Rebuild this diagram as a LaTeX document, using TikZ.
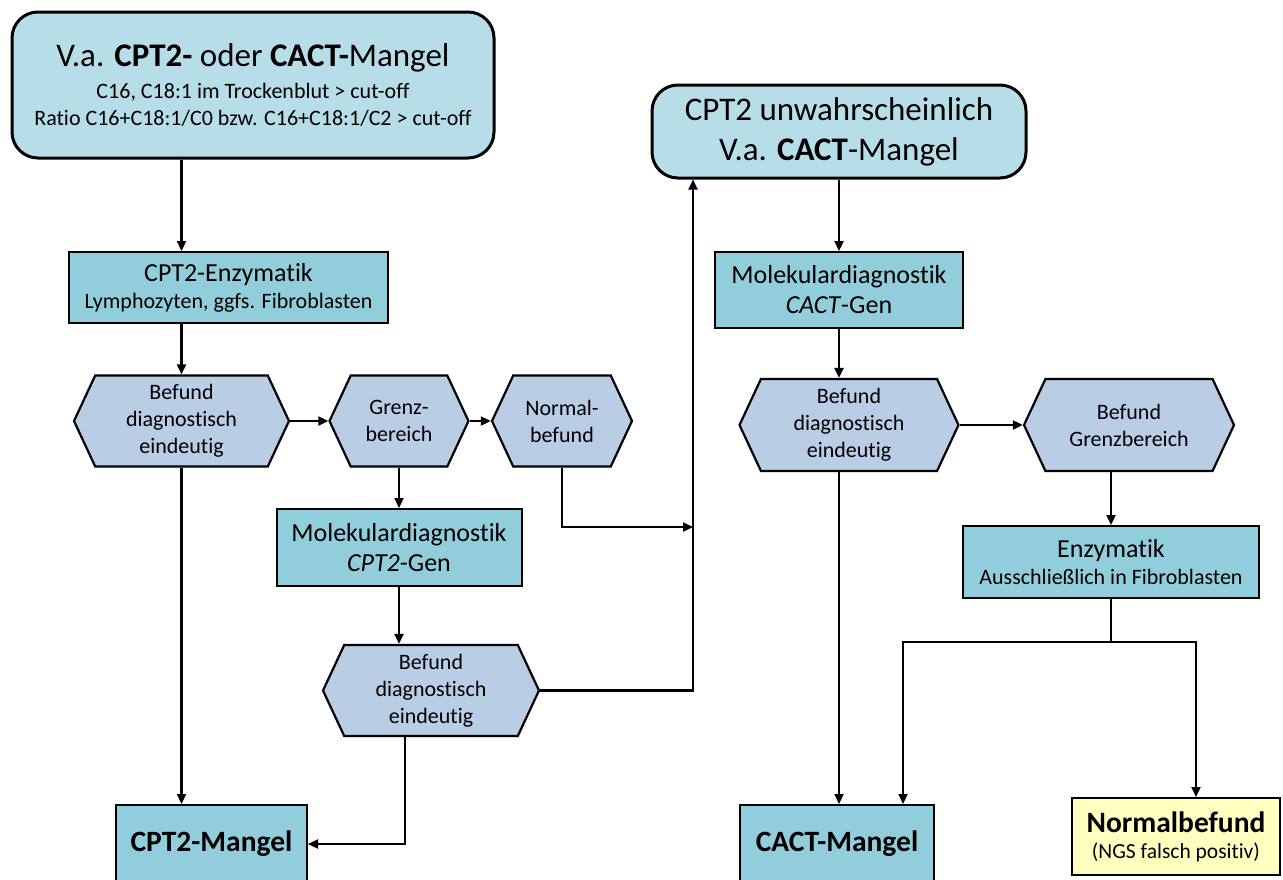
\documentclass[tikz,border=0pt]{standalone}
\usepackage{fontspec}
\setmainfont{Carlito}[Ligatures={NoCommon}]
\usetikzlibrary{shapes.symbols,arrows.meta,calc}
\definecolor{lightaqua}{HTML}{B7DEE8}
\definecolor{aqua}{HTML}{92CDDC}
\definecolor{lightblue}{HTML}{B9CDE5}
\definecolor{paleyellow}{HTML}{FFFFC0}
\newcommand{\fbig}{\fontsize{33}{40}\selectfont}
\newcommand{\fmid}{\fontsize{26}{30}\selectfont}
\newcommand{\fsmall}{\fontsize{22}{27}\selectfont}
\newcommand{\fend}{\fontsize{29.5}{30}\selectfont\bfseries}
\newcommand{\ftiny}{\fontsize{21.5}{25}\selectfont}

\begin{document}
\begin{tikzpicture}[x=1pt,y=-1pt,>={Triangle[length=10pt,width=9pt]},
  roundbox/.style={draw,line width=3pt,rounded corners=26pt,fill=lightaqua,align=center,inner sep=0pt},
  stepbox/.style={draw,line width=2pt,fill=aqua,align=center,inner sep=0pt},
  hexa/.style={draw,line width=2.2pt,fill=lightblue,signal,signal to=east and west,
    signal pointer angle=130,align=center,inner sep=0pt,font=\fsmall},
  conn/.style={line width=2.2pt},
  arr/.style={conn,->}]

\useasboundingbox (0,0) rectangle (1283,879);

%------------------------
% Start boxes
%------------------------
\node[roundbox,minimum width=482pt,minimum height=146pt,font=\fsmall] (top) at (253,85)
  {{\fbig V.a. \textbf{CPT2-} oder \textbf{CACT-}Mangel}\\[5pt]
   C16, C18:1 im Trockenblut > cut-off\\
   Ratio C16+C18:1/C0 bzw. C16+C18:1/C2 > cut-off};
\node[roundbox,minimum width=374pt,minimum height=93pt,font=\fbig] (unw) at (839,131.5)
  {CPT2 unwahrscheinlich\\V.a. \textbf{CACT}-Mangel};

%------------------------
% Left branch (CPT2)
%------------------------
\node[stepbox,minimum width=319pt,minimum height=71pt,font=\fsmall] (enz) at (228.5,287.5)
  {{\fmid CPT2-Enzymatik}\\Lymphozyten, ggfs. Fibroblasten};
\node[hexa,minimum width=215pt,minimum height=91pt] (h1) at (181.5,421)
  {Befund\\diagnostisch\\eindeutig};
\node[hexa,minimum width=139pt,minimum height=91pt] (h2) at (399,421)
  {Grenz-\\bereich};
\node[hexa,minimum width=140pt,minimum height=91pt] (h3) at (562,421)
  {Normal-\\befund};
\node[stepbox,minimum width=245pt,minimum height=77pt,font=\fmid] (mol1) at (399,547.5)
  {Molekulardiagnostik\\\textit{CPT2}-Gen};
\node[hexa,minimum width=216pt,minimum height=91pt] (h6) at (431,690.5)
  {Befund\\diagnostisch\\eindeutig};
\node[stepbox,minimum width=191pt,minimum height=78pt,font=\fend] (cpt2m) at (211.5,844)
  {CPT2-Mangel};

%------------------------
% Right branch (CACT)
%------------------------
\node[stepbox,minimum width=248pt,minimum height=76pt,font=\fmid] (mol2) at (839,290)
  {Molekulardiagnostik\\\textit{CACT}-Gen};
\node[hexa,minimum width=219pt,minimum height=92pt] (h4) at (849,425)
  {Befund\\diagnostisch\\eindeutig};
\node[hexa,minimum width=210pt,minimum height=92pt] (h5) at (1129,425)
  {Befund\\Grenzbereich};
\node[stepbox,minimum width=296pt,minimum height=72pt,font=\fsmall] (enz2) at (1111,562)
  {{\fmid Enzymatik}\\Ausschließlich in Fibroblasten};
\node[stepbox,minimum width=194pt,minimum height=78pt,font=\fend] (cactm) at (837,844)
  {CACT-Mangel};
\node[stepbox,fill=paleyellow,minimum width=208pt,minimum height=77pt,font=\ftiny] (normal) at (1176,836.5)
  {{\fend Normalbefund}\\[1pt](NGS falsch positiv)};

%------------------------
% Connectors
%------------------------
\coordinate (jn) at (693,527);
\coordinate (split) at (1111,642);

\draw[arr] (top.south -| h1.center) -- (enz.north -| h1.center);
\draw[arr] (enz.south -| h1.center) -- (h1.north);
\draw[arr] (h1.east) -- (h2.west);
\draw[arr] (h2.east) -- (h3.west);
\draw[arr] (h2.south) -- (mol1.north);
\draw[arr] (h3.south) |- (jn);
\draw[arr] (mol1.south) -- (mol1.south |- h6.north);
\draw[arr] (h6.east) -| (jn |- unw.south);
\draw[arr] (h1.south) -- (h1.south |- cpt2m.north);
\draw[arr] ([xshift=-26pt]h6.south) |- (cpt2m.east);

\draw[arr] (unw.south) -- (mol2.north);
\draw[arr] (mol2.south) -- (mol2.south |- h4.north);
\draw[arr] (h4.east) -- (h5.west);
\draw[arr] (h4.south -| mol2.center) -- (cactm.north -| mol2.center);
\draw[arr] (h5.south -| enz2.center) -- (enz2.north);
\draw[conn] (enz2.south) -- (split);
\draw[arr] (split) -| ([xshift=66pt]cactm.north);
\draw[arr] (split) -| ([xshift=20pt]normal.north);

\end{tikzpicture}
\end{document}
